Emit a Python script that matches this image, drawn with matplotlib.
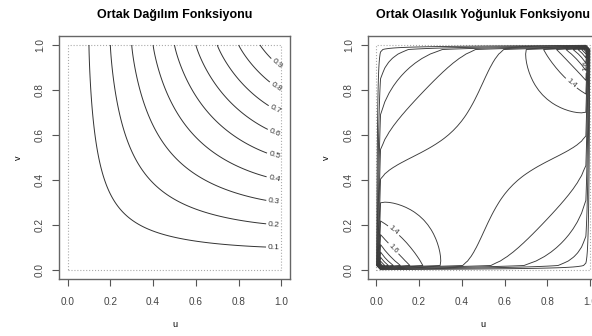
import numpy as np
import matplotlib.pyplot as plt
from statistics import NormalDist

plt.rcParams['font.family'] = ['Liberation Sans', 'DejaVu Sans']

# copula parametresi (Gauss kopula)
rho = 0.3
cdf_levels = [0.1, 0.2, 0.3, 0.4, 0.5, 0.6, 0.7, 0.8, 0.9]
pdf_levels = [0.2, 0.4, 0.6, 0.8, 1.0, 1.2, 1.4, 1.6, 1.8, 2.0, 2.2, 2.4, 2.6, 2.8]
pdf_labels = [1.4, 1.6]
ticks = [0.0, 0.2, 0.4, 0.6, 0.8, 1.0]
titles = ["Ortak Dağılım Fonksiyonu", "Ortak Olasılık Yoğunluk Fonksiyonu"]

nd = NormalDist()


def density(u, v):
    x = np.array([nd.inv_cdf(p) for p in u])
    y = np.array([nd.inv_cdf(p) for p in v])
    X, Y = np.meshgrid(x, y)
    r2 = 1 - rho ** 2
    return np.exp(-(rho ** 2 * (X ** 2 + Y ** 2) - 2 * rho * X * Y) / (2 * r2)) / np.sqrt(r2)


# dagilim fonksiyonu: yogunlugun kumulatif toplami
N = 300
mid = (np.arange(N) + 0.5) / N
d = density(mid, mid)
C = np.zeros((N + 1, N + 1))
C[1:, 1:] = np.cumsum(np.cumsum(d, 0), 1) / N ** 2
g = np.linspace(0, 1, N + 1)

# yogunluk: kenarlarda 0
M = 51
gu = np.linspace(0, 1, M)
Z = np.zeros((M, M))
Z[1:-1, 1:-1] = density(gu[1:-1], gu[1:-1])

fig = plt.figure(figsize=(5.92, 3.36), dpi=100)
ax1 = fig.add_axes([59 / 592, 57 / 336, 231 / 592, 243 / 336])
ax2 = fig.add_axes([367.7 / 592, 57 / 336, 231 / 592, 243 / 336])

for ax, t in zip([ax1, ax2], titles):
    ax.plot([0, 1, 1, 0, 0], [0, 0, 1, 1, 0], ls=':', color='#aaaaaa', lw=0.8)
    ax.set_xlim(-0.04, 1.04)
    ax.set_ylim(-0.04, 1.04)
    ax.set_xticks(ticks)
    ax.set_yticks(ticks)
    ax.set_xticklabels(['%.1f' % t_ for t_ in ticks])
    ax.set_yticklabels(['%.1f' % t_ for t_ in ticks], rotation=90, va='center')
    ax.tick_params(axis='both', length=5, width=0.8, color='#555555', labelsize=7.2, labelcolor='#444444')
    ax.tick_params(axis='x', pad=8)
    ax.tick_params(axis='y', pad=5)
    for s in ax.spines.values():
        s.set_color('#666666')
        s.set_linewidth(1.0)
    ax.set_xlabel('u', fontsize=6.5, labelpad=9)
    ax.set_ylabel('v', fontsize=6.5, labelpad=9)
    ax.set_title(t, fontsize=9, fontweight='bold', pad=13)

cs1 = ax1.contour(g, g, C, levels=cdf_levels, colors='#333333', linewidths=0.7)
ax1.clabel(cs1, fmt='%g', fontsize=6, inline=True, inline_spacing=2,
           manual=[(0.965, l) for l in cdf_levels])

rest = [l for l in pdf_levels if l not in pdf_labels]
ax2.contour(gu, gu, Z, levels=rest, colors='#3a3a3a', linewidths=0.65)
cs2 = ax2.contour(gu, gu, Z, levels=pdf_labels, colors='#3a3a3a', linewidths=0.65)
ax2.clabel(cs2, fmt='%g', fontsize=5.5, inline=True, inline_spacing=2,
           manual=[(0.064, 0.156), (0.064, 0.081), (0.93, 0.85), (0.955, 0.91)])

plt.savefig('out.png', dpi=100)
